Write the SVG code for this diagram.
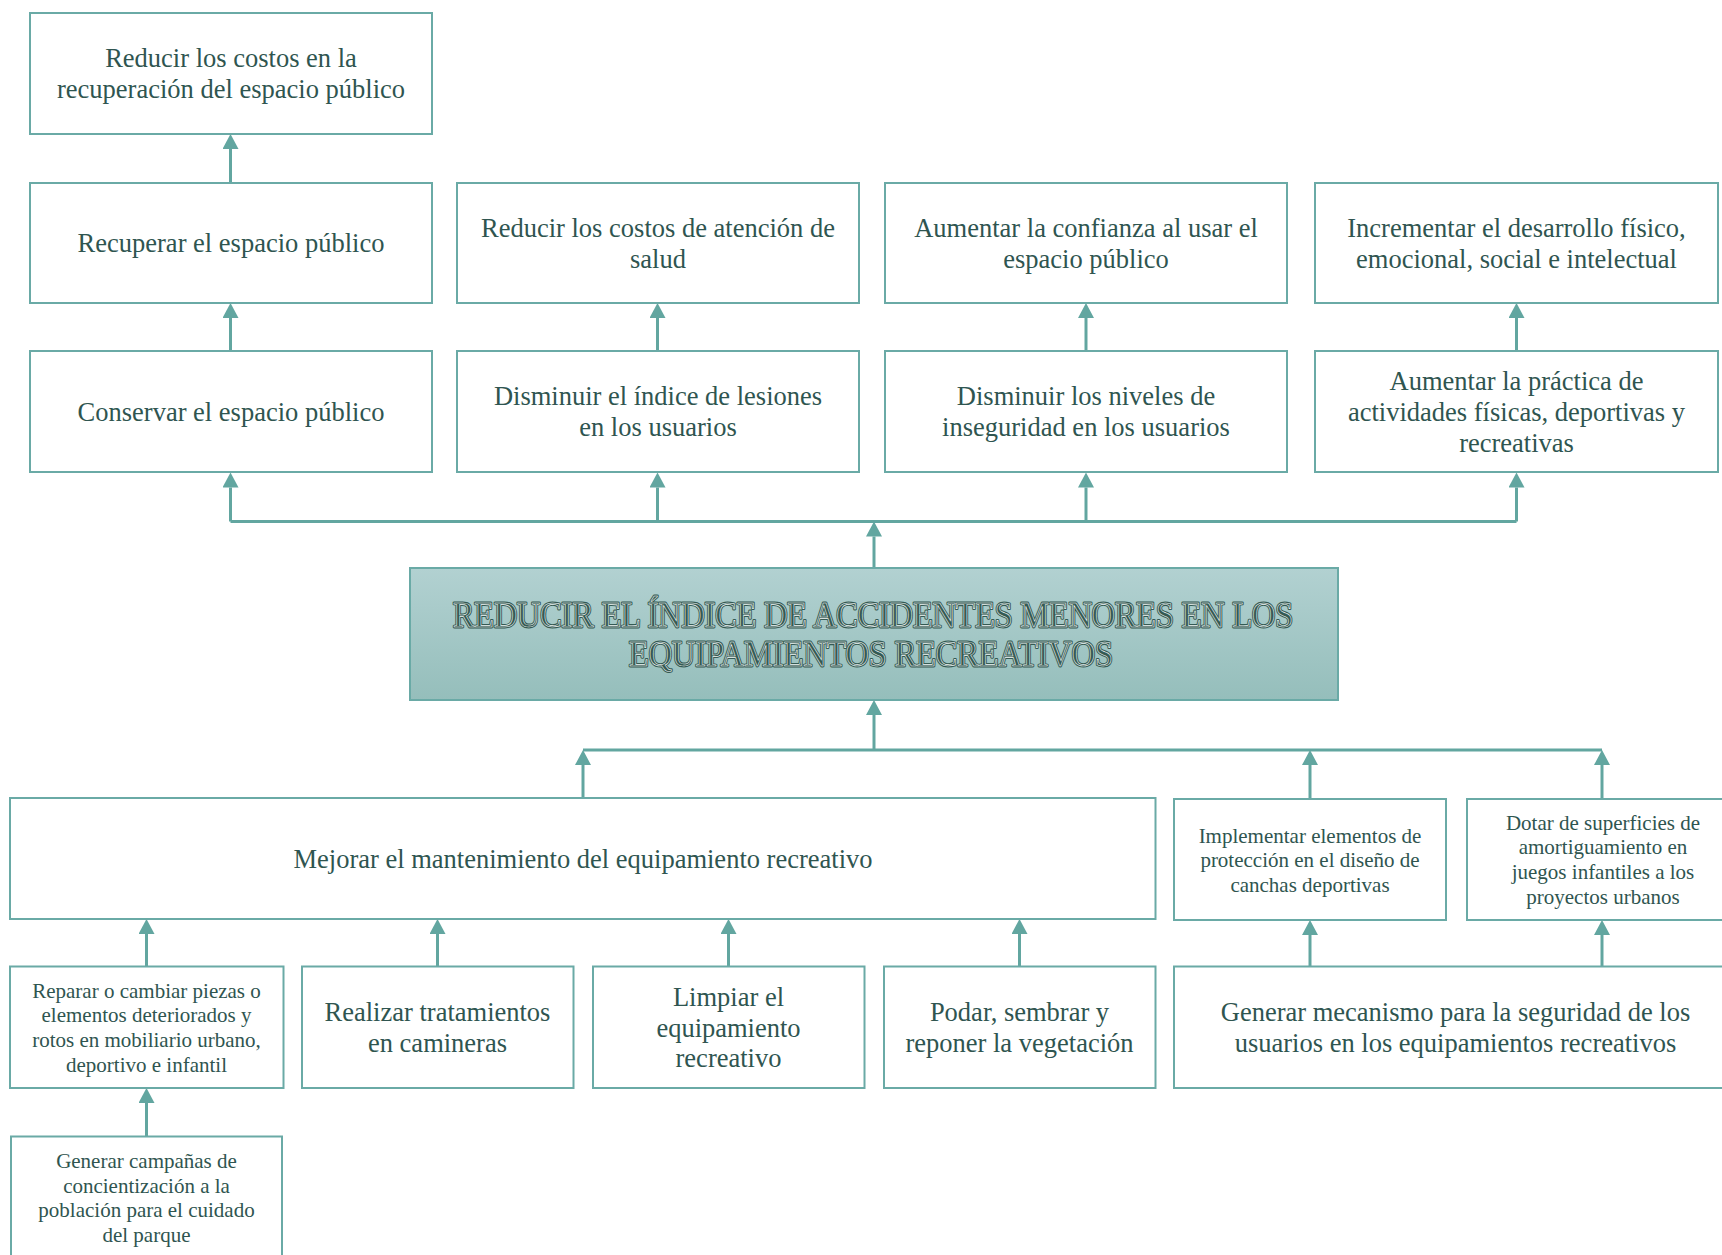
<svg xmlns="http://www.w3.org/2000/svg" width="1722" height="1255" viewBox="0 0 1722 1255">
<style>
.box{fill:#ffffff;stroke:#6aaaa6;stroke-width:2}
.t{font-family:"Liberation Serif","Times New Roman",serif;font-size:26.5px;fill:#2f5550;text-anchor:middle}
.s{font-family:"Liberation Serif","Times New Roman",serif;font-size:21px;fill:#2f5550;text-anchor:middle}
.ttl{font-family:"Liberation Serif","Times New Roman",serif;font-size:35px;text-anchor:middle}
.tb{fill:#355a53;stroke:#355a53;stroke-width:2.8;stroke-linejoin:round}
.tw{fill:none;stroke:#f2f8f7;stroke-width:0.6}
.c{fill:none;stroke:#62a6a0;stroke-width:3}
.ca{fill:none;stroke:#62a6a0;stroke-width:3;marker-end:url(#ah)}
</style>
<defs>
<marker id="ah" markerUnits="userSpaceOnUse" markerWidth="16" markerHeight="16" viewBox="0 0 16 16" refX="0" refY="8" orient="auto">
<path d="M0,0 L15,8 L0,16 Z" fill="#62a6a0"/>
</marker>
<linearGradient id="g" x1="0" y1="0" x2="0" y2="1">
<stop offset="0" stop-color="#b2d1d1"/>
<stop offset="1" stop-color="#95bebb"/>
</linearGradient>
</defs>
<rect width="1722" height="1255" fill="#ffffff"/>

<g id="connectors">
<path class="ca" d="M230.5,183 V149"/>
<path class="ca" d="M230.5,351 V318"/>
<path class="ca" d="M657.5,351 V318"/>
<path class="ca" d="M1086,351 V318"/>
<path class="ca" d="M1516.5,351 V318"/>
<path class="c" d="M230.5,521.5 H1516.5"/>
<path class="ca" d="M230.5,521.5 V487.5"/>
<path class="ca" d="M657.5,521.5 V487.5"/>
<path class="ca" d="M1086,521.5 V487.5"/>
<path class="ca" d="M1516.5,521.5 V487.5"/>
<path class="ca" d="M874,567.5 V536.5"/>
<path class="ca" d="M874,750 V715"/>
<path class="c" d="M583,750 H1602"/>
<path class="ca" d="M583,798 V765"/>
<path class="ca" d="M1310,799 V765"/>
<path class="ca" d="M1602,799 V765"/>
<path class="ca" d="M146.5,966.5 V934"/>
<path class="ca" d="M437.5,966.5 V934"/>
<path class="ca" d="M728.5,966.5 V934"/>
<path class="ca" d="M1019.5,966.5 V934"/>
<path class="ca" d="M1310,966.5 V935"/>
<path class="ca" d="M1602,966.5 V935"/>
<path class="ca" d="M146.5,1136.5 V1103"/>
</g>

<g id="n-reducir-costos-recuperacion">
<rect class="box" x="30" y="13" width="402" height="121"/>
<text class="t" x="231" y="67">Reducir los costos en la</text>
<text class="t" x="231" y="98">recuperación del espacio público</text>
</g>
<g id="n-recuperar">
<rect class="box" x="30" y="183" width="402" height="120"/>
<text class="t" x="231" y="252">Recuperar el espacio público</text>
</g>
<g id="n-reducir-salud">
<rect class="box" x="457" y="183" width="402" height="120"/>
<text class="t" x="658" y="236.5">Reducir los costos de atención de</text>
<text class="t" x="658" y="267.5">salud</text>
</g>
<g id="n-confianza">
<rect class="box" x="885" y="183" width="402" height="120"/>
<text class="t" x="1086" y="236.5">Aumentar la confianza al usar el</text>
<text class="t" x="1086" y="267.5">espacio público</text>
</g>
<g id="n-incrementar">
<rect class="box" x="1315" y="183" width="403" height="120"/>
<text class="t" x="1516.5" y="236.5">Incrementar el desarrollo físico,</text>
<text class="t" x="1516.5" y="267.5">emocional, social e intelectual</text>
</g>
<g id="n-conservar">
<rect class="box" x="30" y="351" width="402" height="121"/>
<text class="t" x="231" y="420.5">Conservar el espacio público</text>
</g>
<g id="n-disminuir-lesiones">
<rect class="box" x="457" y="351" width="402" height="121"/>
<text class="t" x="658" y="405">Disminuir el índice de lesiones</text>
<text class="t" x="658" y="436">en los usuarios</text>
</g>
<g id="n-disminuir-inseguridad">
<rect class="box" x="885" y="351" width="402" height="121"/>
<text class="t" x="1086" y="405">Disminuir los niveles de</text>
<text class="t" x="1086" y="436">inseguridad en los usuarios</text>
</g>
<g id="n-aumentar-practica">
<rect class="box" x="1315" y="351" width="403" height="121"/>
<text class="t" x="1516.5" y="389.5">Aumentar la práctica de</text>
<text class="t" x="1516.5" y="420.5">actividades físicas, deportivas y</text>
<text class="t" x="1516.5" y="451.5">recreativas</text>
</g>

<g id="n-central">
<rect x="410" y="568" width="928" height="132" fill="url(#g)" stroke="#6aaaa6" stroke-width="2"/>
<text class="ttl tb" x="873" y="627" textLength="840" lengthAdjust="spacingAndGlyphs">REDUCIR EL ÍNDICE DE ACCIDENTES MENORES EN LOS</text>
<text class="ttl tb" x="871" y="666" textLength="484" lengthAdjust="spacingAndGlyphs">EQUIPAMIENTOS RECREATIVOS</text>
<text class="ttl tw" x="873" y="627" textLength="840" lengthAdjust="spacingAndGlyphs">REDUCIR EL ÍNDICE DE ACCIDENTES MENORES EN LOS</text>
<text class="ttl tw" x="871" y="666" textLength="484" lengthAdjust="spacingAndGlyphs">EQUIPAMIENTOS RECREATIVOS</text>
</g>

<g id="n-mejorar">
<rect class="box" x="10" y="798" width="1145.5" height="121"/>
<text class="t" x="583" y="867.5">Mejorar el mantenimiento del equipamiento recreativo</text>
</g>
<g id="n-implementar">
<rect class="box" x="1174" y="799" width="272" height="121"/>
<text class="s" x="1310" y="842.5">Implementar elementos de</text>
<text class="s" x="1310" y="867">protección en el diseño de</text>
<text class="s" x="1310" y="891.5">canchas deportivas</text>
</g>
<g id="n-dotar">
<rect class="box" x="1467" y="799" width="270" height="121"/>
<text class="s" x="1603" y="829.5">Dotar de superficies de</text>
<text class="s" x="1603" y="854">amortiguamiento en</text>
<text class="s" x="1603" y="879">juegos infantiles a los</text>
<text class="s" x="1603" y="903.5">proyectos urbanos</text>
</g>

<g id="n-reparar">
<rect class="box" x="10" y="966.5" width="273.5" height="121.5"/>
<text class="s" x="146.5" y="997.5">Reparar o cambiar piezas o</text>
<text class="s" x="146.5" y="1022">elementos deteriorados y</text>
<text class="s" x="146.5" y="1046.5">rotos en mobiliario urbano,</text>
<text class="s" x="146.5" y="1071.5">deportivo e infantil</text>
</g>
<g id="n-realizar">
<rect class="box" x="302" y="966.5" width="271.5" height="121.5"/>
<text class="t" x="437.5" y="1021">Realizar tratamientos</text>
<text class="t" x="437.5" y="1051.5">en camineras</text>
</g>
<g id="n-limpiar">
<rect class="box" x="593" y="966.5" width="271.5" height="121.5"/>
<text class="t" x="728.5" y="1006">Limpiar el</text>
<text class="t" x="728.5" y="1036.5">equipamiento</text>
<text class="t" x="728.5" y="1067">recreativo</text>
</g>
<g id="n-podar">
<rect class="box" x="884" y="966.5" width="271.5" height="121.5"/>
<text class="t" x="1019.5" y="1021">Podar, sembrar y</text>
<text class="t" x="1019.5" y="1051.5">reponer la vegetación</text>
</g>
<g id="n-generar-mecanismo">
<rect class="box" x="1174" y="966.5" width="563" height="121.5"/>
<text class="t" x="1455.5" y="1020.5">Generar mecanismo para la seguridad de los</text>
<text class="t" x="1455.5" y="1051.5">usuarios en los equipamientos recreativos</text>
</g>
<g id="n-campanas">
<rect class="box" x="11" y="1136.5" width="271" height="140"/>
<text class="s" x="146.5" y="1168">Generar campañas de</text>
<text class="s" x="146.5" y="1192.5">concientización a la</text>
<text class="s" x="146.5" y="1217">población para el cuidado</text>
<text class="s" x="146.5" y="1242">del parque</text>
</g>
</svg>
